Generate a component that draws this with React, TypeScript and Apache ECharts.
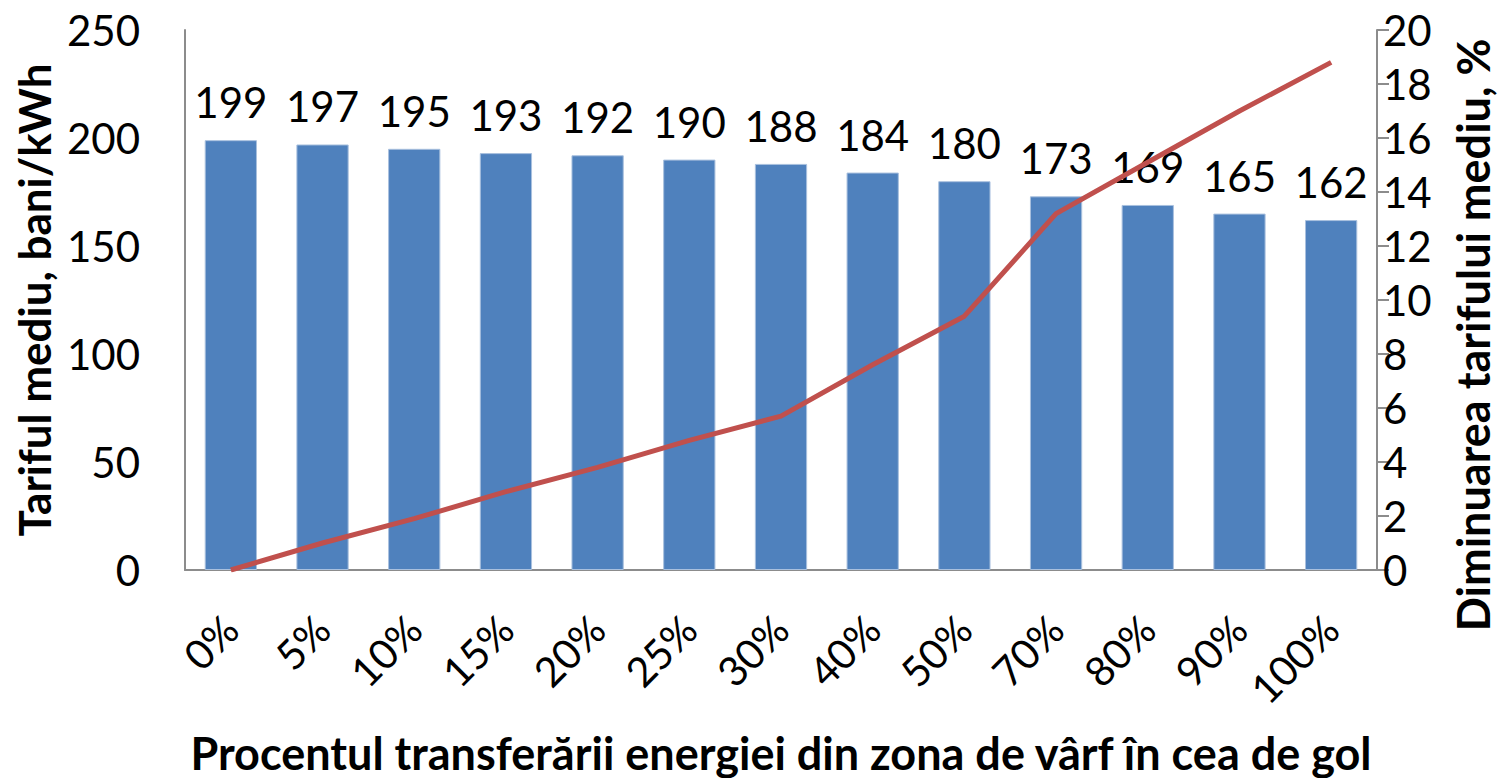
import React, { useEffect, useRef } from "react";
import * as echarts from "echarts";

const categories = ["0%", "5%", "10%", "15%", "20%", "25%", "30%", "40%", "50%", "70%", "80%", "90%", "100%"];
const tariff = [199, 197, 195, 193, 192, 190, 188, 184, 180, 173, 169, 165, 162];
const decrease = [0, 1.0, 1.9, 2.9, 3.8, 4.8, 5.7, 7.6, 9.4, 13.2, 15.1, 17.0, 18.8];
const leftTicks = { min: 0, max: 250, interval: 50 };
const rightTicks = { min: 0, max: 20, interval: 2 };

const FONT = "Lato";

export default function App() {
  const ref = useRef<HTMLDivElement>(null);
  useEffect(() => {
    if (!ref.current) return;
    const chart = echarts.init(ref.current, undefined, { renderer: "svg" });
    chart.setOption({
      animation: false,
      backgroundColor: "#ffffff",
      textStyle: { fontFamily: FONT },
      grid: { left: 185, right: 126, top: 30, bottom: 208, containLabel: false, outerBoundsMode: "none" },
      xAxis: {
        type: "category",
        data: categories,
        axisLine: { show: true, lineStyle: { color: "#8c8c8c", width: 2 } },
        axisTick: { show: false },
        axisLabel: { rotate: 45, margin: 52, fontSize: 41, color: "#000", fontFamily: FONT },
        name: "Procentul transferării energiei din zona de vârf în cea de gol",
        nameLocation: "middle",
        nameGap: 160,
        nameTextStyle: { fontSize: 45, fontWeight: "bold", color: "#000", fontFamily: FONT },
      },
      yAxis: [
        {
          type: "value",
          min: leftTicks.min,
          max: leftTicks.max,
          interval: leftTicks.interval,
          position: "left",
          splitLine: { show: false },
          axisLine: { show: true, lineStyle: { color: "#8c8c8c", width: 2 } },
          axisTick: { show: false },
          axisLabel: { margin: 45, fontSize: 42, color: "#000", fontFamily: FONT },
          name: "Tariful mediu, bani/kWh",
          nameLocation: "middle",
          nameGap: 125,
          nameRotate: 90,
          nameTextStyle: { fontSize: 44, fontWeight: "bold", color: "#000", fontFamily: FONT },
        },
        {
          type: "value",
          min: rightTicks.min,
          max: rightTicks.max,
          interval: rightTicks.interval,
          position: "right",
          splitLine: { show: false },
          axisLine: { show: true, lineStyle: { color: "#8c8c8c", width: 2 } },
          axisTick: { show: true, inside: false, length: 12, lineStyle: { color: "#8c8c8c", width: 2 } },
          axisLabel: { margin: 6, fontSize: 42, color: "#000", fontFamily: FONT },
          name: "Diminuarea tarifului mediu, %",
          nameLocation: "middle",
          nameGap: 73,
          nameRotate: 90,
          nameTextStyle: { fontSize: 45, fontWeight: "bold", color: "#000", fontFamily: FONT, padding: [0, 70, 0, 0] },
        },
      ],
      series: [
        {
          type: "bar",
          data: tariff,
          yAxisIndex: 0,
          barCategoryGap: "43%",
          itemStyle: { color: "#4F81BD", borderColor: "#a9c0de", borderWidth: 1 },
          label: { show: true, position: "top", distance: 17, fontSize: 42, color: "#000", fontFamily: FONT },
        },
        {
          type: "line",
          data: decrease,
          yAxisIndex: 1,
          symbol: "none",
          lineStyle: { color: "#C0504D", width: 5 },
          itemStyle: { color: "#C0504D" },
        },
      ],
    });
    return () => chart.dispose();
  }, []);
  return <div ref={ref} style={{ width: 1503, height: 778, position: "absolute", left: 0, top: 0 }} />;
}
